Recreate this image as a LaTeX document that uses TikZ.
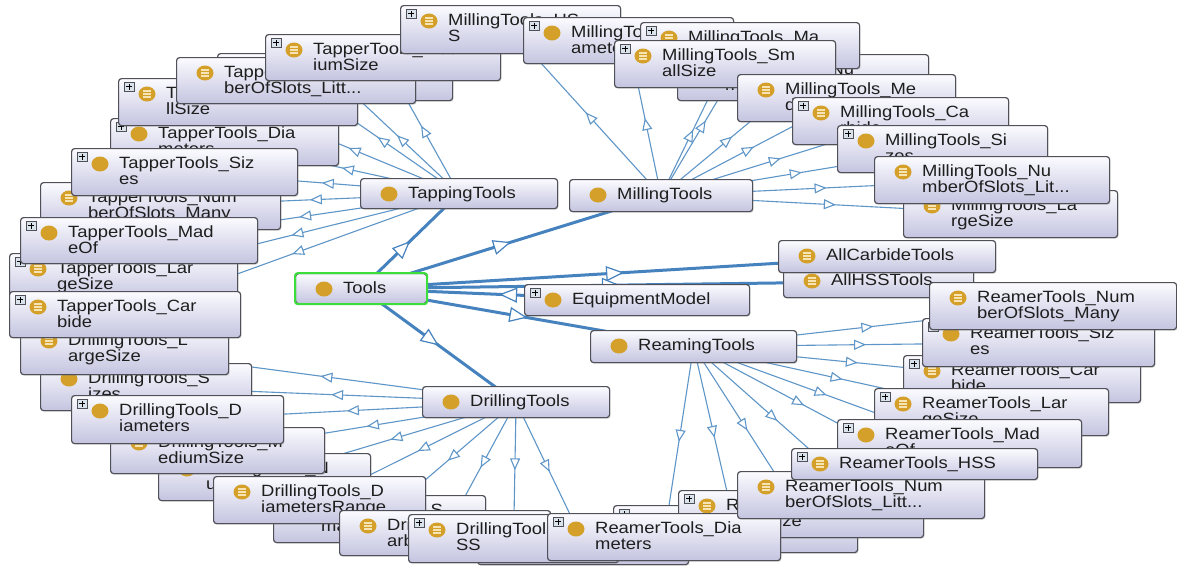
\documentclass[tikz,border=0pt]{standalone}
\usepackage{fontspec}
\newfontfamily\lblfont{Liberation Sans}[FakeStretch=1.13]
\usetikzlibrary{arrows.meta,decorations.markings,shadows,calc}
\definecolor{thinblue}{RGB}{95,150,200}
\definecolor{thickblue}{RGB}{70,130,190}
\definecolor{boxborder}{RGB}{80,80,88}
\definecolor{boxtop}{RGB}{251,251,255}
\definecolor{boxbot}{RGB}{196,196,224}
\definecolor{gold}{RGB}{212,160,42}
\definecolor{goldlight}{RGB}{246,228,180}
\definecolor{selgreen}{RGB}{60,222,60}
\definecolor{plusfill}{RGB}{218,226,236}
\definecolor{textcol}{RGB}{30,30,30}
\pgfdeclarelayer{back}
\pgfdeclarelayer{bg}
\pgfsetlayers{back,bg,main}
\tikzset{
  box/.style={draw=boxborder, line width=1.2pt, rounded corners=3pt,
    top color=boxtop, bottom color=boxbot, inner sep=0pt,
    drop shadow={shadow xshift=1pt, shadow yshift=-1.2pt, opacity=0.25}},
  lbl/.style={font=\lblfont\fontsize{16.3pt}{17pt}\selectfont, text=textcol,
    anchor=base west, inner sep=0pt},
  plusbox/.style={draw=boxborder, fill=plusfill, line width=0.6pt,
    minimum width=10pt, minimum height=9pt, inner sep=0pt},
  plusline/.style={draw=black, line width=0.9pt},
  eqline/.style={draw=goldlight, line width=1.1pt},
  thinedge/.style={draw=thinblue, line width=1.1pt, postaction={decorate},
    decoration={markings, mark=at position 0.5 with
      {\arrow{Triangle[length=12pt, width=10pt, fill=white]}}}},
  thickedge/.style={draw=thickblue, line width=3pt, postaction={decorate},
    decoration={markings, mark=at position 0.5 with
      {\arrow{Triangle[length=18pt, width=15pt, fill=white, line width=1.2pt]}}}},
  selborder/.style={draw=selgreen, line width=2pt, rounded corners=3pt}
}
% name, x1, y1, x2, y2, plus(1/0), icon(e/f), line1, line2
\newcommand\bx[9]{%
  \node[box, anchor=north west, minimum width={(#4-#2)*1pt},
    minimum height={(#5-#3)*1pt}] (#1) at (#2,#3) {};
  \ifnum#6=1\relax
    \node[plusbox, anchor=north west] (#1-p) at ([shift={(6pt,-4pt)}]#1.north west) {};
    \draw[plusline] ([xshift=-3pt]#1-p.center) -- ([xshift=3pt]#1-p.center);
    \draw[plusline] ([yshift=-3pt]#1-p.center) -- ([yshift=3pt]#1-p.center);
  \fi
  \fill[gold] ([shift={(29pt,-16pt)}]#1.north west) ellipse [x radius=8.5pt, y radius=7.5pt];
  \if e#7
    \draw[eqline] ([shift={(25pt,-13pt)}]#1.north west) -- ++(8pt,0pt);
    \draw[eqline] ([shift={(25pt,-16pt)}]#1.north west) -- ++(8pt,0pt);
    \draw[eqline] ([shift={(25pt,-19pt)}]#1.north west) -- ++(8pt,0pt);
  \fi
  \node[lbl] (#1-a) at ([shift={(48pt,-20pt)}]#1.north west) {#8};
  \node[lbl] (#1-b) at ([shift={(48pt,-36pt)}]#1.north west) {#9};
}
\begin{document}
\begin{tikzpicture}[x=1pt,y=-1pt]
\useasboundingbox (0,0) rectangle (1177,566);
\begin{pgfonlayer}{back}
\fill[white] (0,0) rectangle (1177,566);
\end{pgfonlayer}

% ---------- Drilling family ----------
\bx{dhid}{477}{518}{688}{564}{0}{e}{}{}
\bx{dsizes}{40}{363}{251}{410}{0}{f}{DrillingTools\_S}{izes}
\bx{dlarge}{20}{325}{228}{374}{0}{e}{DrillingTools\_L}{argeSize}
\bx{dn}{158}{453}{370}{500}{0}{e}{DrillingTools\_N}{umberOfSlots\_...}
\bx{dmed}{110}{427}{324}{473}{0}{e}{DrillingTools\_M}{ediumSize}
\bx{ddia}{71}{395}{283}{443}{1}{f}{DrillingTools\_D}{iameters}
\bx{dsmall}{273}{495}{485}{542}{0}{e}{DrillingTools\_S}{mallSize}
\bx{ddr}{213}{476}{425}{523}{0}{e}{DrillingTools\_D}{iametersRange}
\bx{dcarb}{339}{510}{550}{555}{0}{e}{DrillingTools\_C}{arbide}
\bx{dhss}{408}{514}{618}{562}{1}{e}{DrillingTools\_H}{SS}

% ---------- Reamer family ----------
\bx{rF}{613}{505}{857}{552}{1}{e}{}{}
\bx{rG}{678}{490}{923}{537}{1}{e}{ReamerTools\_Me}{diumSize}
\bx{rdia}{547}{513}{780}{560}{1}{f}{ReamerTools\_Dia}{meters}
\bx{rnsl}{737}{471}{984}{518}{0}{e}{ReamerTools\_Num}{berOfSlots\_Litt...}
\bx{rcarb}{903}{355}{1140}{402}{1}{e}{ReamerTools\_Car}{bide}
\bx{rlarge}{874}{388}{1108}{435}{1}{e}{ReamerTools\_Lar}{geSize}
\bx{rmade}{837}{419}{1081}{467}{1}{f}{ReamerTools\_Mad}{eOf}
\bx{rhss}{791}{448}{1037}{479}{1}{e}{ReamerTools\_HSS}{}
\bx{rsizes}{922}{318}{1154}{366}{1}{f}{ReamerTools\_Siz}{es}

% ---------- Tapper family ----------
\bx{thid}{217}{53}{452}{100}{0}{e}{}{}
\bx{tdia}{110}{118}{338}{165}{1}{f}{TapperTools\_Dia}{meters}
\bx{tsmall}{118}{78}{357}{125}{1}{e}{TapperTools\_Sma}{llSize}
\bx{tnsl}{176}{57}{415}{103}{0}{e}{TapperTools\_Num}{berOfSlots\_Litt...}
\bx{tmed}{265}{34}{500}{80}{1}{e}{TapperTools\_Med}{iumSize}
\bx{tnsm}{40}{182}{280}{229}{0}{e}{TapperTools\_Num}{berOfSlots\_Many}
\bx{tsizes}{71}{148}{297}{195}{1}{f}{TapperTools\_Siz}{es}
\bx{tlarge}{9}{253}{237}{300}{1}{e}{TapperTools\_Lar}{geSize}
\bx{tmade}{20}{217}{257}{263}{1}{f}{TapperTools\_Mad}{eOf}
\bx{tcarb}{9}{291}{240}{337}{1}{e}{TapperTools\_Car}{bide}

% ---------- Milling family ----------
\bx{mhss}{400}{5}{620}{53}{1}{e}{MillingTools\_HS}{S}
\bx{mdia}{523}{17}{733}{63}{1}{f}{MillingTools\_Di}{ameters}
\bx{mnsm}{677}{54}{928}{100}{0}{e}{MillingTools\_Nu}{mberOfSlots\_Many}
\bx{mma}{640}{22}{859}{68}{1}{e}{MillingTools\_Ma}{deOf}
\bx{msmall}{614}{40}{835}{87}{1}{e}{MillingTools\_Sm}{allSize}
\bx{mme}{737}{74}{955}{121}{0}{e}{MillingTools\_Me}{diumSize}
\bx{mca}{792}{97}{1008}{144}{1}{e}{MillingTools\_Ca}{rbide}
\bx{msi}{837}{125}{1047}{172}{1}{f}{MillingTools\_Si}{zes}
\bx{mlarge}{903}{190}{1117}{237}{0}{e}{MillingTools\_La}{rgeSize}
\bx{mnsl}{874}{156}{1109}{203}{0}{e}{MillingTools\_Nu}{mberOfSlots\_Lit...}

% ---------- Central nodes ----------
\bx{hss}{783}{265}{973}{297}{0}{e}{AllHSSTools}{}
\bx{carb}{778}{240}{995}{272}{0}{e}{AllCarbideTools}{}
\bx{rnsm}{929}{282}{1176}{329}{0}{e}{ReamerTools\_Num}{berOfSlots\_Many}
\bx{tools}{295}{273}{426}{303}{0}{f}{Tools}{}
\draw[selborder] (tools.north west) rectangle (tools.south east);
\bx{tap}{360}{178}{557}{208}{0}{f}{TappingTools}{}
\bx{mill}{569}{179}{752}{211}{0}{f}{MillingTools}{}
\bx{equip}{524}{284}{749}{315}{1}{f}{EquipmentModel}{}
\bx{ream}{590}{330}{796}{362}{0}{f}{ReamingTools}{}
\bx{drill}{422}{386}{609}{417}{0}{f}{DrillingTools}{}

% ---------- Connectors ----------
\begin{pgfonlayer}{bg}
\foreach \c in {thid,tmed,tnsl,tsmall,tdia,tsizes,tnsm,tmade,tlarge,tcarb}
  \draw[thinedge] (tap.center) -- (\c.center);
\foreach \c in {mhss,mdia,mma,msmall,mnsm,mme,mca,msi,mnsl,mlarge}
  \draw[thinedge] (mill.center) -- (\c.center);
\foreach \c in {dlarge,dsizes,ddia,dmed,dn,ddr,dsmall,dcarb,dhss,dhid}
  \draw[thinedge] (drill.center) -- (\c.center);
\foreach \c in {rnsm,rsizes,rcarb,rlarge,rmade,rhss,rnsl,rG,rF,rdia}
  \draw[thinedge] (ream.center) -- (\c.center);
\foreach \c in {tap,mill,carb,hss,ream,drill}
  \draw[thickedge] (tools.center) -- (\c.center);
\draw[thickedge] (equip.center) -- (tools.center);
\end{pgfonlayer}
\end{tikzpicture}
\end{document}
